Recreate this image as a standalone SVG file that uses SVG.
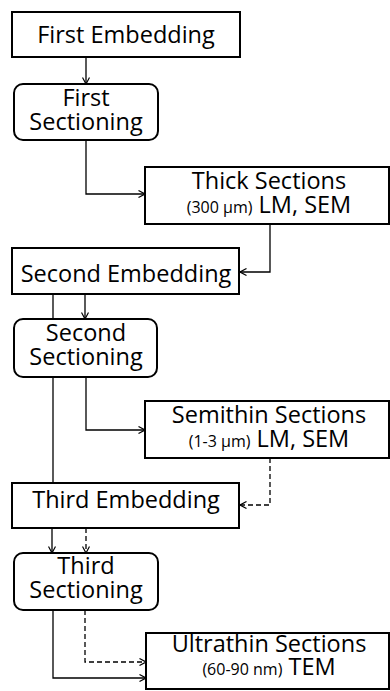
<svg xmlns="http://www.w3.org/2000/svg" width="390" height="691" viewBox="0 0 390 691">
<style>
.box{fill:#fff;stroke:#000;stroke-width:2}
.t{font-family:"Open Sans","Liberation Sans",sans-serif;font-size:23.5px;fill:#000;text-anchor:middle}
.s{font-size:16px}
.c{fill:none;stroke:#000;stroke-width:1.3}
.d{stroke-dasharray:5,3}
</style>
<defs>
<marker id="a" viewBox="0 0 8 8" refX="7.5" refY="4" markerWidth="8" markerHeight="8" markerUnits="userSpaceOnUse" orient="auto">
<path d="M1,0.5 L7.5,4 L1,7.5" fill="none" stroke="#000" stroke-width="1.2"/>
</marker>
</defs>
<rect width="390" height="691" fill="#fff"/>
<g id="connectors">
<path class="c" d="M86,57 V84" marker-end="url(#a)"/>
<path class="c" d="M86,140 V194 H145" marker-end="url(#a)"/>
<path class="c" d="M270,224 V272 H240" marker-end="url(#a)"/>
<path class="c" d="M85,294 V319" marker-end="url(#a)"/>
<path class="c" d="M53,294 V319"/>
<path class="c" d="M53,377 V483"/>
<path class="c" d="M86,377 V430 H145" marker-end="url(#a)"/>
<path class="c d" d="M270,458 V505 H240" marker-end="url(#a)"/>
<path class="c" d="M52,528 V553" marker-end="url(#a)"/>
<path class="c d" d="M86,528 V553" marker-end="url(#a)"/>
<path class="c" d="M53,610 V678 H146" marker-end="url(#a)"/>
<path class="c d" d="M85,610 V662 H146" marker-end="url(#a)"/>
</g>
<g id="first-embedding">
<rect class="box" x="12" y="12" width="228" height="45"/>
<text class="t" x="126" y="43">First Embedding</text>
</g>
<g id="first-sectioning">
<rect class="box" x="14" y="84" width="144" height="56" rx="9"/>
<text class="t" x="86" y="106">First</text>
<text class="t" x="86" y="130">Sectioning</text>
</g>
<g id="thick-sections">
<rect class="box" x="145" y="167" width="244" height="57"/>
<text class="t" x="269" y="189">Thick Sections</text>
<text class="t" x="269" y="213"><tspan class="s">(300 μm)</tspan> LM, SEM</text>
</g>
<g id="second-embedding">
<rect class="box" x="12" y="248" width="227" height="46"/>
<text class="t" x="126" y="282">Second Embedding</text>
</g>
<g id="second-sectioning">
<rect class="box" x="14" y="319" width="143" height="58" rx="9"/>
<text class="t" x="86" y="341">Second</text>
<text class="t" x="86" y="365">Sectioning</text>
</g>
<g id="semithin-sections">
<rect class="box" x="145" y="401" width="244" height="57"/>
<text class="t" x="269" y="423">Semithin Sections</text>
<text class="t" x="269" y="447"><tspan class="s">(1-3 μm)</tspan> LM, SEM</text>
</g>
<g id="third-embedding">
<rect class="box" x="12" y="483" width="227" height="45"/>
<text class="t" x="126" y="508">Third Embedding</text>
</g>
<g id="third-sectioning">
<rect class="box" x="14" y="553" width="144" height="57" rx="9"/>
<text class="t" x="86" y="574">Third</text>
<text class="t" x="86" y="598">Sectioning</text>
</g>
<g id="ultrathin-sections">
<rect class="box" x="146" y="633" width="243" height="56"/>
<text class="t" x="269" y="652">Ultrathin Sections</text>
<text class="t" x="269" y="675"><tspan class="s">(60-90 nm)</tspan> TEM</text>
</g>
</svg>
